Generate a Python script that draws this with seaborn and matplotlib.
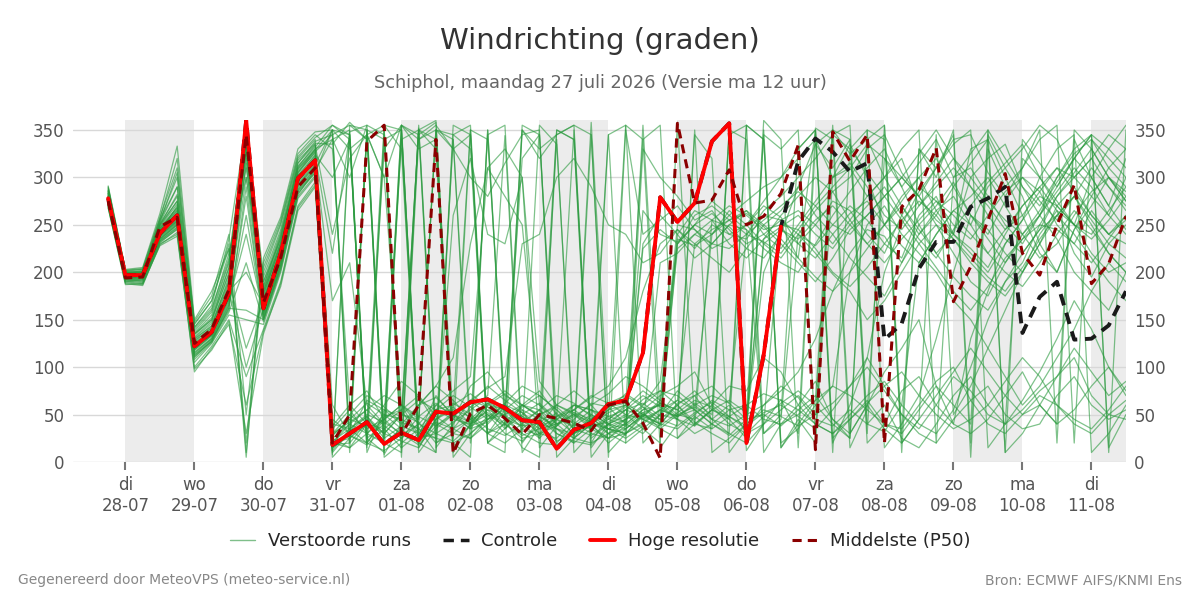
import pandas as pd
import matplotlib
matplotlib.use("Agg")
import matplotlib.pyplot as plt
from matplotlib.lines import Line2D
import seaborn as sns

# 6-hourly steps from 27-07 18:00 up to 11-08 12:00
times = pd.date_range("2026-07-27 18:00", periods=60, freq="6h")

# Hoge resolutie (ends 06-08 12:00)
hres = [278, 197, 197, 241, 260, 122, 137, 178, 360, 162,
        220, 299, 318, 18, 30, 42, 19, 31, 23, 53,
        51, 63, 66, 57, 44, 42, 14, 34, 41, 61,
        65, 115, 279, 253, 273, 338, 357, 20, 113, 248]

# Controle: same as hres up to 06-08 12:00, then on its own
control_tail = [317, 341, 327, 306, 315, 129, 146, 204, 232, 232,
                269, 278, 290, 136, 174, 190, 129, 130, 144, 180]

# Middelste (P50)
p50 = [275, 194, 195, 248, 258, 125, 140, 182, 345, 168,
       215, 290, 310, 20, 50, 338, 355, 29, 60, 340,
       9, 51, 60, 46, 29, 50, 46, 41, 33, 60,
       64, 41, 4, 357, 273, 276, 308, 250, 259, 283,
       334, 13, 348, 317, 345, 20, 269, 287, 331, 169,
       206, 255, 304, 220, 197, 250, 292, 188, 209, 259]

# Verstoorde runs
m01 = [283, 199, 198, 244, 262, 128, 141, 185, 338, 171, 226, 296, 322, 22, 35, 48, 25, 38, 30, 55,
       60, 72, 58, 49, 38, 40, 22, 30, 45, 62, 70, 58, 45, 38, 52, 63, 48, 35, 60, 75,
       95, 130, 180, 220, 245, 238, 210, 250, 270, 295, 260, 240, 275, 300, 285, 250, 230, 265, 240, 255]
m02 = [276, 195, 194, 238, 255, 118, 133, 172, 352, 158, 214, 302, 315, 12, 348, 355, 8, 40, 352, 20,
       35, 58, 70, 344, 10, 38, 52, 28, 358, 45, 60, 340, 355, 25, 48, 35, 350, 12, 40, 66,
       30, 352, 340, 15, 55, 320, 300, 280, 310, 345, 5, 330, 290, 310, 350, 20, 340, 300, 270, 320]
m03 = [290, 201, 203, 250, 282, 135, 150, 205, 310, 185, 240, 310, 330, 35, 55, 30, 45, 60, 28, 70,
       48, 62, 80, 65, 52, 38, 45, 55, 68, 80, 110, 180, 230, 245, 225, 250, 240, 235, 260, 255,
       240, 228, 250, 270, 255, 230, 215, 260, 280, 240, 225, 205, 240, 270, 290, 265, 220, 195, 230, 250]
m04 = [270, 192, 190, 233, 248, 110, 128, 165, 350, 150, 205, 285, 305, 350, 20, 42, 355, 330, 15, 45,
       58, 40, 62, 75, 60, 48, 35, 25, 40, 55, 72, 60, 85, 230, 250, 262, 245, 225, 215, 240,
       290, 335, 310, 340, 20, 40, 75, 90, 60, 40, 130, 180, 230, 255, 300, 330, 345, 10, 30, 60]
m05 = [285, 196, 197, 252, 290, 140, 160, 220, 300, 190, 235, 315, 338, 345, 355, 340, 20, 10, 350, 340,
       5, 30, 48, 60, 42, 55, 30, 20, 35, 48, 55, 48, 40, 62, 70, 45, 38, 50, 60, 80,
       68, 45, 38, 55, 40, 32, 60, 210, 240, 265, 250, 290, 310, 280, 230, 200, 245, 270, 300, 285]
m06 = [279, 199, 200, 242, 270, 125, 138, 180, 200, 165, 218, 298, 318, 170, 210, 60, 40, 55, 70, 48,
       35, 45, 62, 55, 320, 345, 40, 50, 35, 25, 42, 230, 260, 240, 215, 230, 250, 245, 30, 45,
       240, 220, 198, 180, 150, 170, 200, 230, 250, 220, 190, 175, 210, 240, 260, 235, 200, 180, 160, 200]
m07 = [268, 188, 186, 230, 240, 100, 122, 150, 90, 140, 190, 270, 295, 15, 28, 20, 12, 25, 40, 30,
       22, 38, 55, 48, 30, 20, 18, 30, 38, 42, 55, 70, 58, 45, 350, 10, 25, 40, 55, 48,
       38, 50, 62, 80, 100, 75, 50, 30, 20, 45, 65, 80, 50, 35, 40, 70, 90, 60, 45, 55]
m08 = [281, 197, 201, 246, 266, 130, 143, 195, 345, 175, 230, 305, 330, 340, 300, 355, 345, 30, 60, 80,
       110, 230, 310, 280, 250, 60, 45, 38, 50, 40, 35, 50, 45, 60, 38, 55, 65, 52, 345, 330,
       350, 25, 300, 335, 300, 250, 280, 300, 265, 240, 300, 320, 335, 290, 260, 300, 325, 340, 310, 330]
m09 = [273, 194, 193, 236, 252, 115, 130, 168, 320, 155, 212, 290, 312, 28, 45, 62, 50, 35, 20, 10,
       355, 345, 20, 42, 60, 75, 50, 35, 28, 40, 48, 66, 75, 60, 42, 30, 20, 40, 200, 245,
       230, 215, 240, 262, 275, 250, 228, 210, 240, 265, 280, 300, 270, 240, 215, 230, 260, 285, 300, 275]
m10 = [286, 200, 199, 255, 300, 145, 170, 230, 10, 200, 250, 320, 340, 8, 355, 350, 5, 20, 35, 10,
       345, 355, 30, 45, 15, 5, 350, 340, 25, 40, 50, 35, 20, 358, 40, 55, 45, 25, 350, 15,
       40, 65, 355, 30, 60, 35, 20, 45, 345, 50, 80, 120, 160, 200, 230, 260, 280, 250, 220, 200]
m11 = [277, 196, 196, 240, 258, 120, 135, 176, 355, 160, 222, 300, 320, 20, 25, 45, 30, 50, 65, 55,
       45, 80, 95, 70, 60, 55, 40, 48, 60, 72, 90, 80, 65, 50, 45, 60, 80, 75, 110, 95,
       60, 40, 30, 50, 70, 85, 60, 40, 30, 55, 100, 150, 190, 210, 250, 280, 300, 320, 290, 265]
m12 = [272, 193, 192, 235, 250, 112, 129, 160, 290, 152, 208, 282, 308, 340, 350, 25, 40, 355, 345, 358,
       15, 40, 50, 38, 355, 345, 20, 40, 55, 45, 38, 225, 245, 230, 260, 270, 255, 240, 265, 280,
       300, 320, 345, 330, 350, 15, 40, 70, 130, 200, 260, 245, 220, 200, 230, 270, 290, 260, 240, 230]
m13 = [288, 202, 204, 258, 310, 148, 175, 240, 50, 210, 255, 325, 345, 330, 60, 40, 30, 50, 45, 350,
       340, 35, 60, 72, 55, 45, 30, 22, 18, 35, 40, 55, 70, 80, 95, 60, 45, 355, 340, 20,
       35, 60, 80, 200, 250, 270, 240, 220, 200, 170, 150, 120, 90, 60, 80, 110, 140, 180, 210, 190]
m14 = [275, 195, 197, 243, 258, 124, 140, 180, 335, 168, 215, 295, 318, 18, 20, 350, 25, 340, 10, 35,
       50, 42, 60, 55, 48, 40, 35, 30, 45, 58, 62, 50, 40, 225, 240, 255, 248, 230, 240, 255,
       265, 250, 230, 255, 280, 300, 330, 350, 20, 300, 310, 280, 250, 230, 260, 290, 320, 300, 270, 245]
m15 = [282, 198, 198, 247, 268, 132, 148, 200, 325, 180, 232, 308, 328, 45, 30, 65, 55, 40, 60, 68,
       50, 38, 45, 62, 80, 70, 55, 40, 35, 45, 58, 75, 62, 48, 55, 240, 265, 250, 230, 215,
       240, 265, 285, 300, 330, 345, 305, 280, 250, 235, 210, 190, 175, 200, 240, 265, 250, 220, 200, 210]
m16 = [271, 190, 188, 232, 245, 105, 125, 155, 150, 145, 200, 278, 300, 25, 15, 40, 60, 85, 70, 40,
       30, 25, 45, 60, 52, 30, 25, 45, 62, 58, 40, 30, 50, 65, 55, 40, 28, 45, 50, 38,
       55, 70, 45, 30, 60, 95, 120, 150, 80, 40, 30, 45, 70, 95, 60, 40, 55, 80, 100, 75]
m17 = [284, 199, 202, 249, 275, 136, 155, 210, 340, 182, 236, 312, 332, 355, 340, 20, 350, 45, 350, 330,
       25, 350, 340, 55, 35, 28, 45, 350, 20, 50, 355, 340, 15, 40, 345, 320, 10, 35, 360, 340,
       15, 335, 350, 340, 30, 355, 10, 330, 300, 350, 20, 345, 310, 330, 355, 340, 300, 320, 345, 330]
m18 = [274, 193, 194, 237, 253, 116, 131, 170, 240, 156, 210, 288, 310, 30, 50, 35, 45, 28, 40, 60,
       75, 90, 310, 330, 300, 85, 60, 50, 42, 35, 30, 48, 62, 55, 70, 80, 62, 240, 232, 220,
       245, 270, 290, 310, 280, 300, 320, 270, 290, 310, 290, 270, 245, 260, 285, 310, 300, 280, 260, 300]
m19 = [279, 197, 195, 241, 262, 126, 139, 183, 350, 166, 219, 297, 320, 40, 35, 20, 48, 55, 25, 30,
       42, 55, 68, 45, 38, 50, 60, 52, 40, 35, 45, 52, 60, 235, 228, 240, 255, 262, 248, 230,
       210, 190, 215, 245, 260, 280, 255, 230, 205, 180, 160, 185, 215, 235, 250, 245, 230, 210, 235, 260]
m20 = [287, 200, 201, 253, 305, 142, 165, 235, 355, 195, 245, 318, 336, 335, 358, 340, 350, 5, 340, 355,
       330, 300, 280, 315, 345, 350, 5, 25, 40, 20, 35, 48, 65, 250, 245, 225, 235, 250, 270, 258,
       230, 250, 275, 265, 240, 220, 260, 290, 275, 250, 235, 260, 285, 300, 275, 255, 280, 310, 290, 270]
m21 = [269, 189, 187, 229, 242, 95, 120, 145, 60, 138, 185, 265, 290, 10, 32, 48, 30, 22, 15, 45,
       62, 50, 35, 28, 40, 55, 70, 62, 48, 30, 20, 35, 50, 75, 60, 45, 30, 20, 40, 55,
       70, 50, 345, 355, 40, 60, 25, 15, 40, 70, 90, 60, 40, 55, 75, 90, 110, 70, 50, 45]
m22 = [280, 198, 199, 244, 264, 127, 142, 188, 330, 172, 224, 301, 323, 220, 345, 15, 340, 350, 30, 25,
       260, 320, 240, 230, 300, 15, 38, 60, 55, 48, 42, 265, 240, 232, 250, 275, 260, 245, 225, 210,
       200, 230, 260, 285, 310, 330, 290, 250, 220, 240, 330, 340, 300, 260, 220, 200, 245, 280, 310, 290]
m23 = [276, 195, 196, 239, 256, 121, 136, 174, 300, 161, 216, 293, 316, 15, 50, 70, 58, 42, 35, 55,
       70, 58, 45, 50, 60, 48, 38, 55, 70, 62, 50, 45, 38, 52, 65, 58, 40, 30, 48, 62,
       75, 60, 40, 25, 350, 340, 20, 45, 70, 95, 120, 95, 70, 50, 60, 90, 120, 95, 70, 85]
m24 = [291, 203, 205, 262, 333, 150, 180, 225, 5, 215, 258, 330, 348, 350, 10, 345, 25, 355, 330, 340,
       20, 5, 350, 35, 55, 25, 340, 10, 30, 345, 355, 20, 40, 230, 250, 240, 260, 275, 290, 300,
       320, 340, 300, 310, 335, 320, 290, 315, 340, 300, 325, 350, 10, 340, 315, 290, 320, 345, 10, 350]
m25 = [273, 192, 191, 234, 250, 113, 127, 163, 280, 150, 207, 286, 307, 20, 40, 55, 70, 60, 48, 38,
       50, 65, 78, 90, 230, 240, 300, 320, 290, 250, 240, 210, 220, 245, 230, 215, 200, 225, 250, 265,
       290, 260, 240, 215, 195, 175, 210, 240, 265, 280, 250, 220, 200, 185, 210, 240, 265, 245, 220, 200]
m26 = [283, 200, 198, 248, 272, 134, 150, 198, 345, 178, 228, 306, 326, 28, 45, 38, 330, 355, 20, 42,
       35, 25, 40, 58, 48, 35, 40, 50, 38, 25, 30, 40, 55, 48, 62, 50, 345, 355, 30, 50,
       330, 350, 25, 45, 65, 40, 30, 55, 80, 60, 40, 350, 320, 290, 270, 300, 330, 345, 15, 50]
m27 = [278, 196, 197, 242, 260, 123, 138, 181, 100, 163, 220, 298, 319, 60, 28, 18, 35, 50, 42, 20,
       30, 45, 52, 40, 25, 30, 48, 60, 55, 38, 45, 58, 40, 35, 50, 65, 55, 42, 235, 248,
       260, 240, 225, 250, 270, 290, 260, 235, 215, 245, 270, 295, 315, 335, 300, 270, 250, 240, 265, 290]
m28 = [274, 194, 195, 238, 254, 119, 134, 175, 345, 159, 213, 292, 314, 350, 345, 10, 55, 48, 350, 360,
       10, 40, 62, 48, 350, 330, 345, 355, 15, 40, 28, 355, 50, 45, 38, 255, 270, 260, 245, 250,
       215, 350, 10, 330, 305, 280, 300, 325, 350, 320, 290, 260, 235, 220, 245, 280, 305, 330, 300, 275]
m29 = [285, 199, 200, 251, 280, 138, 158, 212, 335, 185, 238, 311, 334, 240, 320, 345, 300, 60, 45, 350,
       45, 40, 55, 35, 50, 62, 45, 30, 42, 55, 60, 45, 35, 50, 58, 45, 60, 30, 40, 250,
       245, 225, 200, 185, 205, 230, 255, 275, 260, 235, 215, 195, 180, 205, 235, 260, 280, 255, 230, 215]
m30 = [270, 191, 189, 231, 246, 108, 126, 158, 210, 148, 202, 280, 302, 5, 25, 40, 35, 15, 30, 50,
       55, 48, 30, 20, 35, 50, 58, 42, 30, 25, 38, 52, 35, 25, 40, 55, 48, 38, 52, 60,
       48, 35, 55, 80, 110, 80, 50, 35, 60, 90, 75, 50, 40, 65, 95, 130, 170, 140, 100, 70]
m31 = [280, 196, 199, 246, 268, 131, 146, 192, 328, 176, 229, 304, 327, 345, 25, 350, 340, 15, 355, 30,
       340, 20, 350, 45, 30, 355, 335, 25, 50, 345, 20, 330, 300, 280, 255, 265, 240, 250, 275, 300,
       330, 350, 20, 60, 110, 200, 250, 285, 310, 335, 350, 15, 40, 320, 300, 275, 250, 300, 330, 355]
m32 = [271, 190, 192, 233, 247, 111, 127, 162, 160, 150, 204, 283, 305, 38, 60, 75, 45, 340, 350, 15,
       40, 65, 50, 30, 22, 40, 60, 75, 60, 40, 55, 62, 48, 240, 265, 255, 230, 215, 235, 260,
       280, 300, 285, 255, 230, 250, 275, 300, 320, 290, 260, 235, 210, 235, 260, 285, 310, 290, 260, 240]
m33 = [286, 201, 200, 255, 290, 142, 162, 215, 350, 190, 242, 315, 335, 15, 30, 345, 355, 350, 25, 60,
       50, 35, 345, 355, 20, 45, 350, 340, 5, 30, 45, 60, 75, 70, 55, 40, 30, 355, 340, 15,
       45, 20, 350, 325, 340, 355, 30, 330, 310, 340, 345, 305, 280, 310, 340, 355, 20, 340, 320, 300]
m34 = [277, 195, 195, 240, 257, 120, 134, 176, 330, 162, 218, 296, 318, 20, 15, 30, 50, 45, 35, 25,
       20, 30, 45, 55, 70, 60, 40, 25, 20, 30, 40, 55, 60, 45, 30, 40, 55, 60, 45, 40,
       50, 65, 80, 70, 55, 40, 35, 60, 85, 100, 65, 40, 30, 50, 70, 60, 45, 35, 55, 80]
m35 = [283, 198, 197, 250, 275, 135, 152, 205, 355, 180, 232, 309, 329, 350, 330, 345, 300, 355, 340, 350,
       345, 330, 20, 10, 350, 320, 345, 355, 345, 5, 350, 240, 255, 270, 245, 230, 250, 265, 240, 225,
       250, 275, 300, 315, 290, 260, 245, 270, 295, 320, 300, 275, 255, 240, 265, 295, 320, 345, 330, 310]
m36 = [272, 192, 193, 235, 251, 114, 130, 166, 260, 153, 209, 287, 309, 25, 40, 30, 20, 35, 60, 80,
       65, 45, 30, 40, 58, 70, 55, 35, 40, 52, 60, 45, 55, 65, 230, 245, 255, 265, 250, 235,
       215, 195, 180, 200, 225, 250, 270, 245, 220, 195, 175, 160, 190, 220, 245, 260, 240, 215, 190, 170]
m37 = [289, 202, 203, 257, 320, 146, 170, 225, 20, 205, 252, 322, 342, 355, 345, 25, 10, 350, 20, 45,
       55, 350, 20, 35, 60, 50, 35, 20, 345, 10, 30, 50, 40, 60, 75, 55, 350, 340, 10, 40,
       60, 85, 45, 25, 340, 300, 270, 240, 260, 290, 315, 340, 10, 30, 60, 40, 350, 330, 300, 280]
m38 = [275, 194, 196, 239, 254, 118, 133, 172, 315, 157, 214, 291, 313, 30, 42, 55, 38, 25, 48, 62,
       48, 35, 42, 58, 45, 30, 38, 52, 45, 35, 30, 42, 55, 48, 60, 70, 62, 45, 230, 245,
       235, 255, 270, 250, 230, 210, 235, 255, 275, 260, 240, 220, 245, 270, 290, 310, 285, 260, 240, 260]
m39 = [281, 197, 200, 245, 265, 129, 144, 190, 120, 170, 224, 302, 324, 300, 340, 20, 45, 60, 40, 350,
       330, 345, 30, 55, 40, 25, 45, 60, 50, 35, 25, 38, 210, 220, 240, 230, 225, 240, 255, 270,
       285, 270, 250, 240, 260, 280, 300, 280, 255, 240, 220, 200, 230, 255, 280, 270, 250, 235, 255, 280]
m40 = [268, 187, 188, 228, 238, 98, 118, 148, 30, 135, 188, 268, 292, 12, 35, 50, 42, 30, 18, 38,
       52, 65, 58, 40, 28, 35, 48, 55, 42, 30, 35, 50, 62, 55, 40, 35, 48, 60, 72, 65,
       55, 40, 30, 45, 62, 80, 95, 70, 50, 35, 45, 60, 85, 110, 90, 60, 40, 30, 50, 65]

members = [m01, m02, m03, m04, m05, m06, m07, m08, m09, m10, m11, m12, m13, m14, m15,
           m16, m17, m18, m19, m20, m21, m22, m23, m24, m25, m26, m27, m28, m29, m30,
           m31, m32, m33, m34, m35, m36, m37, m38, m39, m40]

day_names = ["di", "wo", "do", "vr", "za", "zo", "ma", "di", "wo", "do", "vr", "za", "zo", "ma", "di"]
day_dates = ["28-07", "29-07", "30-07", "31-07", "01-08", "02-08", "03-08", "04-08",
             "05-08", "06-08", "07-08", "08-08", "09-08", "10-08", "11-08"]

# long table for the ensemble
ens = pd.DataFrame(
    [(k, t, v) for k, m in enumerate(members) for t, v in zip(times, m)],
    columns=["member", "time", "deg"],
)
control = hres + control_tail
df_hres = pd.DataFrame({"time": times[:len(hres)], "deg": hres})
df_ctrl = pd.DataFrame({"time": times, "deg": control})
df_p50 = pd.DataFrame({"time": times, "deg": p50})

sns.set_style("white")
plt.rcParams["font.family"] = ["DejaVu Sans"]

fig = plt.figure(figsize=(12, 6), dpi=100)
ax = fig.add_axes([0.0608, 0.23, 0.8775, 0.5692])

# shaded alternate days
for d in pd.date_range("2026-07-28", periods=8, freq="2D"):
    ax.axvspan(d, d + pd.Timedelta(days=1), color="#ececec", lw=0, zorder=0)

green = "#2a9a3e"
sns.lineplot(data=ens, x="time", y="deg", units="member", estimator=None,
             color=green, lw=0.9, alpha=0.6, legend=False, ax=ax, zorder=2)
sns.lineplot(data=df_ctrl, x="time", y="deg", color="#1a1a1a", lw=2.8,
             linestyle=(0, (3, 2)), ax=ax, zorder=3)
sns.lineplot(data=df_hres, x="time", y="deg", color="#ff0000", lw=2.8, ax=ax, zorder=4)
sns.lineplot(data=df_p50, x="time", y="deg", color="#8b0000", lw=2.2,
             linestyle=(0, (3, 2)), ax=ax, zorder=5)

ax.set_xlim(pd.Timestamp("2026-07-27 05:45"), pd.Timestamp("2026-08-11 12:00"))
ax.set_ylim(0, 360)
ax.set_yticks(range(0, 351, 50))
ticks = pd.date_range("2026-07-28", periods=15, freq="D")
ax.set_xticks(ticks)
ax.set_xticklabels([f"{a}\n{b}" for a, b in zip(day_names, day_dates)])
ax.set_xlabel("")
ax.set_ylabel("")
ax.grid(True, axis="y", color="#d8d8d8", lw=1, zorder=1)
ax.set_axisbelow(True)
for s in ax.spines.values():
    s.set_visible(False)
ax.tick_params(axis="x", length=6, width=1.5, color="#777777", labelcolor="#555555",
               labelsize=12, pad=4, bottom=True)
ax.tick_params(axis="y", length=0, labelcolor="#555555", labelsize=12, pad=6,
               left=False, right=False, labelleft=True, labelright=True)

fig.text(0.5, 0.932, "Windrichting (graden)", ha="center", va="center",
         fontsize=21, color="#333333")
fig.text(0.5, 0.862, "Schiphol, maandag 27 juli 2026 (Versie ma 12 uur)", ha="center",
         va="center", fontsize=12.8, color="#666666")

handles = [
    Line2D([], [], color="#7fbf8a", lw=1),
    Line2D([], [], color="#1a1a1a", lw=2.5, linestyle=(0, (3, 2))),
    Line2D([], [], color="#ff0000", lw=2.8),
    Line2D([], [], color="#8b0000", lw=2.2, linestyle=(0, (3, 2))),
]
labels = ["Verstoorde runs", "Controle", "Hoge resolutie", "Middelste (P50)"]
fig.legend(handles, labels, loc="center", bbox_to_anchor=(0.5, 0.098), ncol=4,
           frameon=False, fontsize=13, handlelength=1.4, handletextpad=0.7,
           columnspacing=1.8)

fig.text(0.015, 0.033, "Gegenereerd door MeteoVPS (meteo-service.nl)", ha="left",
         va="center", fontsize=10, color="#888888")
fig.text(0.985, 0.033, "Bron: ECMWF AIFS/KNMI Ens", ha="right", va="center",
         fontsize=10, color="#888888")

fig.savefig("out.png", dpi=100)
